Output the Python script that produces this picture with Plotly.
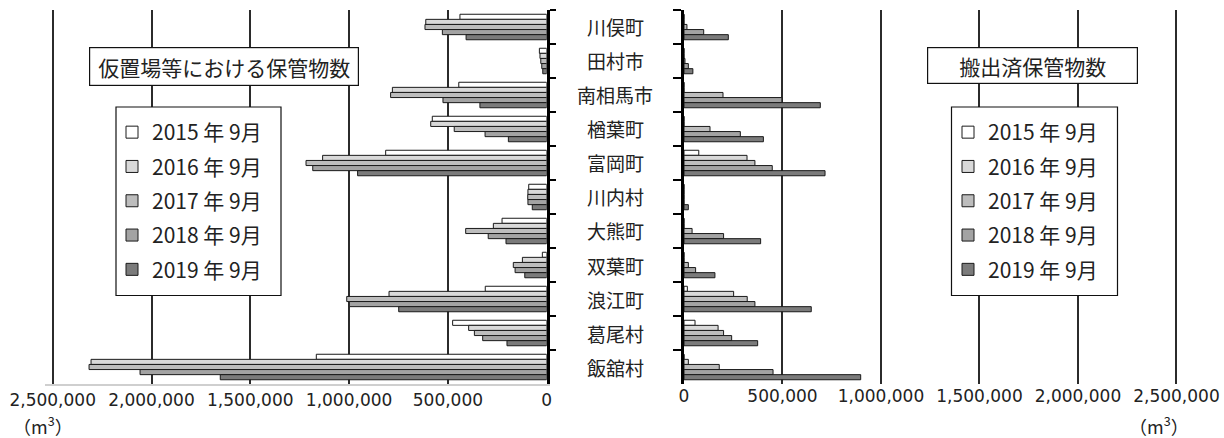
import plotly.graph_objects as go

# 市町村（上から順）
municipalities = ["川俣町", "田村市", "南相馬市", "楢葉町", "富岡町", "川内村",
                  "大熊町", "双葉町", "浪江町", "葛尾村", "飯舘村"]
periods = ["2015 年 9月", "2016 年 9月", "2017 年 9月", "2018 年 9月", "2019 年 9月"]

# 仮置場等における保管物数 (m3)
stored_2015 = [439000, 37000, 445000, 579000, 815000, 91000, 226000, 22000, 311000, 476000, 1166000]
stored_2016 = [612000, 34000, 781000, 587000, 1134000, 95000, 270000, 123000, 798000, 395000, 2306000]
stored_2017 = [616000, 30000, 790000, 468000, 1218000, 96000, 410000, 169000, 1012000, 366000, 2316000]
stored_2018 = [528000, 25000, 525000, 312000, 1184000, 95000, 296000, 160000, 999000, 324000, 2058000]
stored_2019 = [408000, 20000, 338000, 194000, 957000, 73000, 206000, 111000, 749000, 201000, 1652000]

# 搬出済保管物数 (m3)
removed_2015 = [0, 0, 0, 0, 75000, 0, 0, 0, 17000, 56000, 0]
removed_2016 = [0, 0, 0, 0, 320000, 0, 0, 0, 252000, 173000, 22000]
removed_2017 = [15000, 5000, 198000, 132000, 360000, 0, 41000, 22000, 321000, 201000, 179000]
removed_2018 = [100000, 22000, 497000, 286000, 448000, 0, 201000, 59000, 360000, 242000, 452000]
removed_2019 = [225000, 45000, 692000, 403000, 716000, 22000, 389000, 157000, 646000, 374000, 897000]

x_ticks = [0, 500000, 1000000, 1500000, 2000000, 2500000]

stored = [stored_2015, stored_2016, stored_2017, stored_2018, stored_2019]
removed = [removed_2015, removed_2016, removed_2017, removed_2018, removed_2019]
fills = ["#ffffff", "#d9d9d9", "#bdbdbd", "#a3a3a3", "#7b7b7b"]

W, H = 1224, 438
JP = "Noto Sans CJK JP"
TXT = "#222222"


def px(v):
    return v / W


def py(v):
    return 1 - v / H


fig = go.Figure()

for name, vals, col in zip(periods, stored, fills):
    fig.add_trace(go.Bar(
        x=vals, y=municipalities, orientation="h", name=name,
        marker=dict(color=col, line=dict(color="#1a1a1a", width=1)),
        xaxis="x", yaxis="y", legend="legend", legendgroup="L" + name,
    ))

for name, vals, col in zip(periods, removed, fills):
    fig.add_trace(go.Bar(
        x=vals, y=municipalities, orientation="h", name=name,
        marker=dict(color=col, line=dict(color="#1a1a1a", width=1)),
        xaxis="x2", yaxis="y2", legend="legend2", legendgroup="R" + name,
    ))

y_dom = [py(384), py(10)]

xcommon = dict(
    tickvals=x_ticks, tickformat=",d", showgrid=True, gridcolor="#2b2b2b",
    gridwidth=1.5, zeroline=False, ticks="", ticklabelstandoff=0,
    automargin=False,
    tickfont=dict(family="DejaVu Sans", size=17, color=TXT),
)
ycommon = dict(
    type="category", categoryorder="array", categoryarray=municipalities,
    autorange="reversed", domain=y_dom, showgrid=False, showline=True,
    linecolor="#000000", linewidth=3, ticks="outside", tickson="boundaries",
    tickwidth=2, tickcolor="#000000", showticklabels=False, automargin=False,
)

fig.update_layout(
    width=W, height=H, autosize=False,
    margin=dict(l=0, r=0, t=0, b=0, pad=0, autoexpand=False),
    paper_bgcolor="white", plot_bgcolor="white",
    barmode="group", bargap=0.25, bargroupgap=0,
    showlegend=True,
    xaxis=dict(domain=[px(44.8), px(546.7)], range=[2540000, 0], anchor="y",
               showline=True, linecolor="#cfcfcf", linewidth=1.5, **xcommon),
    xaxis2=dict(domain=[px(684), px(1180.4)], range=[0, 2520000], anchor="y2",
                showline=False, **xcommon),
    yaxis=dict(anchor="x", side="right", ticklen=6, **ycommon),
    yaxis2=dict(anchor="x2", side="left", ticklen=8, matches="y", **ycommon),
    legend=dict(x=px(112), y=py(112), xanchor="left", yanchor="top",
                bgcolor="rgba(0,0,0,0)", borderwidth=0, traceorder="grouped",
                tracegroupgap=4, font=dict(family=JP, size=21, color=TXT)),
    legend2=dict(x=px(948), y=py(112), xanchor="left", yanchor="top",
                 bgcolor="rgba(0,0,0,0)", borderwidth=0, traceorder="grouped",
                 tracegroupgap=4, font=dict(family=JP, size=21, color=TXT)),
    font=dict(family=JP, color=TXT),
)

# legend frames
for x0, x1 in [(116, 281), (951.5, 1117.5)]:
    fig.add_shape(type="rect", xref="paper", yref="paper",
                  x0=px(x0), x1=px(x1), y0=py(295.5), y1=py(107),
                  line=dict(color="#111111", width=1.2), fillcolor="white",
                  layer="above")

annotations = []
# panel titles
annotations.append(dict(text="仮置場等における保管物数", x=px(223.5), y=py(66.5),
                        xref="paper", yref="paper", xanchor="center",
                        yanchor="middle", showarrow=False,
                        width=268, height=37, borderpad=0, bgcolor="white",
                        bordercolor="#111111", borderwidth=1.2,
                        font=dict(family=JP, size=21, color=TXT)))
annotations.append(dict(text="搬出済保管物数", x=px(1032.5), y=py(66),
                        xref="paper", yref="paper", xanchor="center",
                        yanchor="middle", showarrow=False,
                        width=209, height=35, borderpad=0, bgcolor="white",
                        bordercolor="#111111", borderwidth=1.2,
                        font=dict(family=JP, size=21, color=TXT)))
# municipality names between the panels
for m in municipalities:
    annotations.append(dict(text=m, x=px(615), y=m, xref="paper", yref="y",
                            xanchor="center", yanchor="middle",
                            showarrow=False,
                            font=dict(family=JP, size=19, color=TXT)))
# units
for ux in (43, 1159):
    annotations.append(dict(text="（m<sup>3</sup>）", x=px(ux), y=py(425),
                            xref="paper", yref="paper", xanchor="center",
                            yanchor="middle", showarrow=False,
                            font=dict(family=JP, size=18, color=TXT)))
fig.update_layout(annotations=annotations)

fig.write_html("out.html")
